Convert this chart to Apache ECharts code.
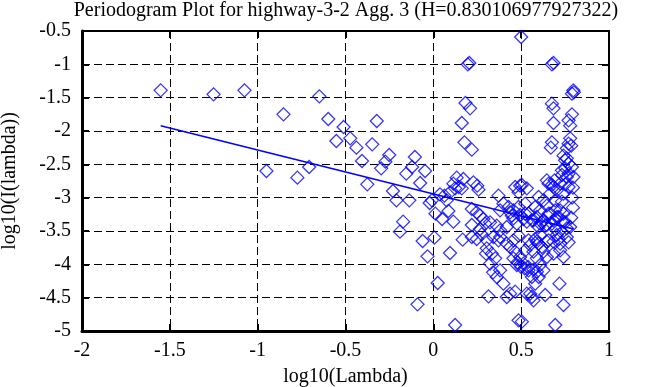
<!DOCTYPE html>
<html><head><meta charset="utf-8">
<script src="https://cdn.jsdelivr.net/npm/echarts@6/dist/echarts.min.js"></script>
<style>html,body{margin:0;padding:0;background:#fff}#c{width:658px;height:387px}</style>
</head><body><div id="c"></div>
<script>
const chartTitle = 'Periodogram Plot for highway-3-2 Agg. 3 (H=0.830106977927322)';
const xName = 'log10(Lambda)';
const yName = 'log10(I(lambda))';

const logLambda = [
-1.552,-1.251,-1.075,-0.950,-0.853,-0.774,-0.707,-0.649,-0.598,-0.552,
-0.511,-0.473,-0.438,-0.406,-0.376,-0.348,-0.322,-0.297,-0.273,-0.251,
-0.230,-0.210,-0.190,-0.172,-0.154,-0.137,-0.121,-0.105,-0.090,-0.075,
-0.061,-0.047,-0.033,-0.021,-0.008,
0.006,0.012,0.025,0.038,0.050,0.063,0.076,0.086,0.095,0.095,
0.114,0.114,0.124,0.124,0.133,0.145,0.162,0.171,0.162,0.177,0.183,0.196,0.167,
0.205,0.209,0.219,0.228,0.250,0.257,0.219,0.247,0.266,0.285,0.295,0.266,0.219,0.219,0.247,0.275,
0.304,0.304,0.300,0.314,0.323,0.323,0.333,0.340,0.342,0.352,0.361,0.361,0.371,0.371,0.380,0.380,0.380,0.380,0.399,0.399,
0.418,0.418,0.418,0.428,0.437,0.437,0.437,0.447,0.456,0.456,0.456,0.456,0.466,0.466,0.466,0.475,0.475,0.480,0.485,0.485,0.485,0.485,0.494,0.494,0.494,0.500,0.500,
0.504,0.504,0.513,0.513,0.520,0.523,0.523,0.523,0.532,0.532,0.532,0.540,0.542,0.542,0.542,0.551,0.551,0.561,0.561,0.561,0.570,0.570,0.570,0.570,0.580,0.580,0.580,0.589,0.589,0.589,0.590,0.599,0.599,0.599,0.600,
0.608,0.608,0.608,0.608,0.618,0.618,0.627,0.627,0.627,0.627,0.637,0.637,0.646,0.646,0.646,0.646,0.646,0.656,0.656,0.656,0.665,0.665,0.669,0.675,0.675,0.675,0.675,0.675,0.684,0.684,0.684,0.684,0.684,0.684,0.684,0.690,0.694,0.694,0.694,0.694,
0.703,0.703,0.703,0.713,0.713,0.718,0.722,0.722,0.722,0.722,0.732,0.732,0.732,0.732,0.741,0.741,0.741,0.741,0.741,0.741,0.750,0.751,0.751,0.751,0.760,0.760,0.760,0.760,0.760,0.770,0.770,0.770,0.770,0.770,0.770,0.779,0.779,0.779,0.785,0.785,0.789,0.789,0.789,0.790,0.795,0.795,0.797,0.798,0.800
];
const logPeriodogram = [
-1.39,-1.45,-1.39,-2.60,-1.75,-2.70,-2.54,-1.48,-1.82,-2.15,
-1.94,-2.11,-2.25,-2.45,-2.80,-2.20,-1.85,-2.56,-2.46,-2.36,
-2.90,-3.04,-3.51,-3.36,-2.64,-3.04,-2.54,-2.39,-4.60,-2.78,
-3.65,-2.60,-3.88,-3.08,-3.04,
-3.60,-3.24,-4.28,-2.95,-3.32,-2.97,-3.04,-3.20,-2.92,-3.83,
-2.79,-3.36,-2.86,-4.91,-2.70,-2.84,-2.86,-2.72,-1.88,-2.17,-1.58,-1.00,-3.63,
-0.98,-1.66,-2.28,-2.77,-2.82,-2.88,-3.17,-3.22,-3.27,-3.32,-3.39,-3.47,-3.41,-3.59,-3.62,-3.55,
-3.64,-3.76,-3.84,-4.48,-3.37,-3.99,-3.84,-4.12,-3.59,-3.91,-3.42,-4.19,-2.97,-3.64,-3.19,-3.49,-3.59,-4.09,-3.09,-4.29,
-3.44,-3.69,-4.49,-3.14,-3.22,-3.74,-4.44,-3.27,-3.19,-3.31,-3.64,-3.91,-2.84,-3.81,-4.41,-3.39,-4.01,-3.97,-3.14,-2.92,-3.57,-4.84,-2.82,-3.26,-3.89,-0.59,-4.04,
-2.81,-4.86,-3.32,-3.99,-4.06,-3.09,-3.24,-3.79,-2.86,-3.36,-4.44,-4.04,-3.24,-3.64,-4.09,-3.71,-4.44,-3.34,-4.19,-4.49,-3.34,-3.81,-4.08,-4.54,-3.14,-3.62,-4.29,-3.29,-3.66,-3.91,-4.11,-2.99,-3.44,-3.69,-4.19,
-3.19,-3.39,-3.56,-4.01,-3.37,-3.74,-3.04,-3.34,-3.81,-4.09,-3.42,-4.46,-2.74,-3.12,-3.41,-3.66,-3.89,-2.79,-3.24,-3.64,-2.94,-3.24,-2.25,-1.00,-1.59,-2.17,-2.81,-3.39,-0.98,-1.66,-1.88,-2.84,-3.34,-3.66,-3.84,-2.74,-3.04,-3.19,-3.47,-4.91,
-2.89,-3.29,-3.56,-3.29,-3.62,-4.29,-2.79,-3.19,-3.69,-3.79,-2.59,-2.66,-3.06,-3.52,-2.37,-2.94,-3.24,-3.36,-3.89,-4.61,-2.44,-2.56,-2.80,-3.37,-2.26,-2.41,-2.69,-3.46,-3.59,-1.84,-2.19,-2.49,-2.64,-2.84,-3.67,-1.92,-2.11,-3.44,-2.22,-3.30,-1.44,-1.75,-2.54,-3.00,-2.85,-3.15,-1.39,-2.69,-1.42
];
const fitX = [-1.552, 0.798];
const fitY = [-1.92, -3.47];

const xTicks = {min: -2, max: 1, step: 0.5};
const yTicks = {min: -5, max: -0.5, step: 0.5};

const FONT = 'Liberation Serif, Times New Roman, serif';
const pts = logLambda.map((x, i) => [x, logPeriodogram[i]]);
const fit = fitX.map((x, i) => [x, fitY[i]]);

const chart = echarts.init(document.getElementById('c'), null, {renderer: 'canvas'});
const tickStyle = {show: true, inside: true, length: 7, lineStyle: {color: '#000', width: 2}};
const labelStyle = {color: '#000', fontFamily: FONT, fontSize: 20};
chart.setOption({
  animation: false,
  backgroundColor: '#fff',
  grid: {left: 82, right: 49, top: 31, bottom: 56, containLabel: false, outerBoundsMode: 'none'},
  graphic: [{
    type: 'text', x: 346, y: 11,
    style: {text: chartTitle, fill: '#000', font: '20px ' + FONT, align: 'center', verticalAlign: 'middle'}
  }],
  xAxis: [{
    type: 'value', position: 'bottom', min: xTicks.min, max: xTicks.max, interval: xTicks.step,
    axisLine: {show: true, onZero: false, lineStyle: {color: '#000', width: 3}},
    axisTick: tickStyle,
    axisLabel: Object.assign({margin: 10}, labelStyle),
    splitLine: {show: true, lineStyle: {color: '#000', width: 1, type: [8, 4]}},
    name: xName, nameLocation: 'middle', nameGap: 36,
    nameTextStyle: {color: '#000', fontFamily: FONT, fontSize: 20}
  }, {
    type: 'value', position: 'top', min: xTicks.min, max: xTicks.max, interval: xTicks.step,
    axisLine: {show: true, onZero: false, lineStyle: {color: '#000', width: 2}},
    axisTick: tickStyle, axisLabel: {show: false}, splitLine: {show: false}
  }],
  yAxis: [{
    type: 'value', position: 'left', min: yTicks.min, max: yTicks.max, interval: yTicks.step,
    axisLine: {show: true, onZero: false, lineStyle: {color: '#000', width: 3}},
    axisTick: tickStyle,
    axisLabel: Object.assign({margin: 11}, labelStyle),
    splitLine: {show: true, lineStyle: {color: '#000', width: 1, type: [8, 4]}},
    name: yName, nameLocation: 'middle', nameGap: 62, nameRotate: 90,
    nameTextStyle: {color: '#000', fontFamily: FONT, fontSize: 20}
  }, {
    type: 'value', position: 'right', min: yTicks.min, max: yTicks.max, interval: yTicks.step,
    axisLine: {show: true, onZero: false, lineStyle: {color: '#000', width: 2}},
    axisTick: tickStyle, axisLabel: {show: false}, splitLine: {show: false}
  }],
  series: [{
    type: 'scatter', data: pts, symbol: 'diamond', symbolSize: 13, silent: true,
    itemStyle: {color: 'rgba(0,0,0,0)', borderColor: '#0000ff', borderWidth: 1.25}
  }, {
    type: 'line', data: fit, showSymbol: false, silent: true,
    lineStyle: {color: '#0000ff', width: 1.5}
  }]
});
</script>
</body></html>
